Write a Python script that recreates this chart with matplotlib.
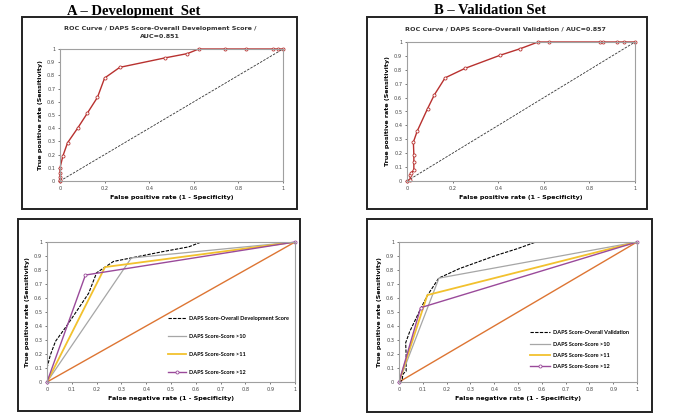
import matplotlib

matplotlib.use("Agg")
import matplotlib.pyplot as plt
from matplotlib.patches import Rectangle

# Development set ROC (overall score)
dev_fpr = [0, 0, 0, 0, 0, 0.013, 0.034, 0.079, 0.123, 0.168, 0.2, 0.268, 0.469,
           0.571, 0.622, 0.742, 0.834, 0.955, 0.979, 1.0]
dev_tpr = [0, 0.01, 0.03, 0.06, 0.1, 0.19, 0.29, 0.40, 0.515, 0.634, 0.78, 0.861,
           0.932, 0.965, 1.0, 1.0, 1.0, 1.0, 1.0, 1.0]

# Validation set ROC (overall score)
val_fpr = [0, 0.013, 0.015, 0.018, 0.03, 0.03, 0.03, 0.028, 0.045, 0.09, 0.12,
           0.167, 0.254, 0.409, 0.497, 0.575, 0.621, 0.846, 0.861, 0.923, 0.953, 1.0]
val_tpr = [0, 0.01, 0.04, 0.06, 0.077, 0.14, 0.19, 0.28, 0.36, 0.52, 0.62,
           0.742, 0.81, 0.905, 0.952, 1.0, 1.0, 1.0, 1.0, 1.0, 1.0, 1.0]

# Single cut-off curves (x, y)
dev_gt10 = ([0, 0.34, 1], [0, 0.886, 1])
dev_gt11 = ([0, 0.234, 1], [0, 0.821, 1])
dev_gt12 = ([0, 0.155, 1], [0, 0.764, 1])
val_gt10 = ([0, 0.168, 1], [0, 0.742, 1])
val_gt11 = ([0, 0.119, 1], [0, 0.621, 1])
val_gt12 = ([0, 0.091, 1], [0, 0.531, 1])
diag = [0, 1]

W, H = 685, 415
RED = "#b8312f"
GREY = "#a6a6a6"
GOLD = "#f2c12e"
PURPLE = "#9a4a9a"
ORANGE = "#dd7533"
SPINE = "#a0a0a0"


def axes_px(fig, x0, y0, x1, y1):
    return fig.add_axes([x0 / W, (H - y1) / H, (x1 - x0) / W, (y1 - y0) / H])


def box_px(fig, x0, y0, x1, y1):
    fig.patches.append(Rectangle((x0 / W, (H - y1) / H), (x1 - x0) / W, (y1 - y0) / H,
                                 transform=fig.transFigure, fill=False,
                                 edgecolor="#222222", linewidth=1.4))


def style(ax, xstep, xlabel):
    ax.set_xlim(0, 1)
    ax.set_ylim(0, 1)
    ax.set_xticks([i * xstep for i in range(int(round(1 / xstep)) + 1)])
    ax.set_yticks([i * 0.1 for i in range(11)])
    fmt = lambda v: "0" if v == 0 else ("1" if abs(v - 1) < 1e-9 else f"{v:.1f}")
    ax.set_xticklabels([fmt(v) for v in ax.get_xticks()])
    ax.set_yticklabels([fmt(v) for v in ax.get_yticks()])
    ax.tick_params(labelsize=3.6, length=1.5, width=0.5, pad=2, colors="#444444")
    for s in ax.spines.values():
        s.set_color(SPINE)
        s.set_linewidth(0.8)
    ax.set_xlabel(xlabel, fontsize=4.6, fontweight="bold", labelpad=3)
    ax.set_ylabel("True positive rate (Sensitivity)", fontsize=4.6, fontweight="bold",
                  labelpad=3)


fig = plt.figure(figsize=(6.85, 4.15), dpi=100)

fig.text(134 / W, 1 - 11 / H, "A \u2013 Development  Set", ha="center", va="center",
         fontsize=10.5, fontweight="bold", family="Liberation Serif")
fig.text(490 / W, 1 - 11 / H, "B \u2013 Validation Set", ha="center", va="center",
         fontsize=10.5, fontweight="bold", family="Liberation Serif")

box_px(fig, 22, 17, 297, 209)
box_px(fig, 367, 17, 647, 209)
box_px(fig, 18, 219, 300, 411)
box_px(fig, 367, 219, 652, 412)

# top left
ax = axes_px(fig, 60, 49, 283, 181)
ax.plot(diag, diag, color="#333333", linestyle=(0, (3, 1.5)), linewidth=0.6)
ax.plot(dev_fpr, dev_tpr, color=RED, linewidth=1.0, marker="o", markersize=2.2,
        markerfacecolor="white", markeredgewidth=0.6, clip_on=False)
style(ax, 0.2, "False positive rate (1 - Specificity)")
fig.text(160 / W, 1 - 28.5 / H, "ROC Curve / DAPS Score-Overall Development Score /",
         ha="center", va="center", fontsize=4.6, fontweight="bold", color="#333333")
fig.text(160 / W, 1 - 37 / H, "AUC=0.851", ha="center", va="center", fontsize=4.6,
         fontweight="bold", color="#333333")

# top right
ax = axes_px(fig, 407, 42, 635, 181)
ax.plot(diag, diag, color="#333333", linestyle=(0, (3, 1.5)), linewidth=0.6)
ax.plot(val_fpr, val_tpr, color=RED, linewidth=1.0, marker="o", markersize=2.2,
        markerfacecolor="white", markeredgewidth=0.6, clip_on=False)
style(ax, 0.2, "False positive rate (1 - Specificity)")
fig.text(505 / W, 1 - 29 / H, "ROC Curve / DAPS Score-Overall Validation / AUC=0.857",
         ha="center", va="center", fontsize=4.6, fontweight="bold", color="#333333")

legend_font = {"family": "Lato", "size": 4.0, "weight": "bold"}

# bottom left
ax = axes_px(fig, 47, 242, 295, 382)
ax.plot(diag, diag, color=ORANGE, linewidth=1.0)
ax.plot(dev_fpr, dev_tpr, color="black", linestyle=(0, (3, 1.2)), linewidth=0.8,
        label="DAPS Score-Overall Development Score")
ax.plot(*dev_gt10, color=GREY, linewidth=0.9, label="DAPS Score-Score >10")
ax.plot(*dev_gt11, color=GOLD, linewidth=1.3, label="DAPS Score-Score >11")
ax.plot(*dev_gt12, color=PURPLE, linewidth=1.0, marker="o", markersize=2.2,
        markerfacecolor="white", markeredgewidth=0.6, label="DAPS Score-Score >12",
        clip_on=False)
style(ax, 0.1, "False negative rate (1 - Specificity)")
ax.legend(loc="upper left", bbox_to_anchor=(0.475, 0.49), frameon=False,
          prop=legend_font, handlelength=3.4, labelspacing=2.3,
          borderpad=0, handletextpad=0.4)

# bottom right
ax = axes_px(fig, 399, 242, 637, 382)
ax.plot(diag, diag, color=ORANGE, linewidth=1.0)
ax.plot(val_fpr, val_tpr, color="black", linestyle=(0, (3, 1.2)), linewidth=0.8,
        label="DAPS Score-Overall Validation")
ax.plot(*val_gt10, color=GREY, linewidth=0.9, label="DAPS Score-Score >10")
ax.plot(*val_gt11, color=GOLD, linewidth=1.3, label="DAPS Score-Score >11")
ax.plot(*val_gt12, color=PURPLE, linewidth=1.0, marker="o", markersize=2.2,
        markerfacecolor="white", markeredgewidth=0.6, label="DAPS Score-Score >12",
        clip_on=False)
style(ax, 0.1, "False negative rate (1 - Specificity)")
ax.legend(loc="upper left", bbox_to_anchor=(0.54, 0.39), frameon=False,
          prop=legend_font, handlelength=3.6, labelspacing=1.15,
          borderpad=0, handletextpad=0.4)

fig.savefig("out.png", dpi=100)
